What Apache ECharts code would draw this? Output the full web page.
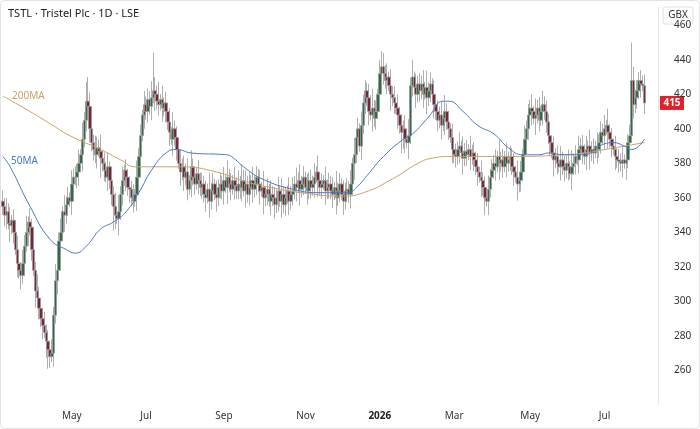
<!DOCTYPE html>
<html><head><meta charset="utf-8">
<script src="https://cdn.jsdelivr.net/npm/echarts@6/dist/echarts.min.js"></script>
<style>html,body{margin:0;padding:0;background:#fff}#c{width:700px;height:429px}</style>
</head><body><div id="c"></div>
<script>
const closes = [
355,350,352,345,344,347,340,330,322,318,
315,322,332,340,346,343,330,318,306,302,
296,290,286,282,277,272,268,270,292,312,
318,335,340,352,350,356,360,358,368,372,
372,375,380,385,394,405,416,413,400,392,
388,385,389,387,383,380,376,372,378,370,
362,355,350,348,352,362,370,376,372,366,
365,360,358,362,372,384,396,408,414,410,
417,413,418,422,420,416,414,417,412,415,
410,404,398,394,400,395,388,380,375,378,
372,375,365,370,378,372,368,374,370,366,
368,362,360,365,358,364,368,362,360,366,
368,364,370,366,372,368,365,370,367,364,
368,366,370,364,368,362,366,370,365,368,
372,368,364,366,360,362,365,358,362,360,
356,360,364,358,362,356,360,364,358,362,
364,368,366,370,365,368,372,366,364,370,
366,368,372,375,370,366,368,370,364,366,
368,364,362,366,360,364,368,362,358,364,
365,362,368,380,385,395,400,390,402,415,
422,418,410,408,412,406,410,420,432,436,
432,428,430,425,420,418,415,412,408,402,
398,400,394,392,396,425,430,424,420,426,
422,426,420,424,418,422,426,420,414,410,
405,408,402,406,410,404,400,395,388,385,
384,388,390,386,383,387,385,388,384,386,
382,378,375,372,370,366,360,358,365,372,
376,380,378,384,380,382,378,384,380,382,
384,378,375,372,368,370,375,385,394,400,
408,412,410,406,408,412,405,410,414,410,
404,396,392,386,382,384,380,378,382,378,
376,380,378,374,378,380,384,382,388,390,
386,384,388,390,386,388,386,390,388,392,
398,396,400,402,398,394,390,388,384,382,
381,380,382,380,382,392,396,428,414,418,
422,428,426,425,415];
const firstOpen = 358;
const upWick = "4353624352 3546253436 4325342536 4352634253 4352637452 3543624352 4352635243 4352634253 4364537252 4352634253 4352634253 4352634253 4352634253 5364536253 4352634253 4352634253 5363634253 4352634253 4352634253 4352634253 4356734253 5352634253 4352634253 4352634253 4352634253 4352634253 4352634253 4352634253 4352634253 4352634253 4352634253 4352634253 4352634253 4352634253 4352634253 43534";
const dnWick = "3452634253 5342534263 4352634253 5243634253 3452634253 4352734253 4352634253 5342634253 4352634253 4352634253 5342634253 4352634253 4352634253 3452634253 4352634253 5352634253 4352634253 4352634253 4352634253 4352634253 4352634253 4352634253 4652634253 4352634253 4352634253 4352634253 4352634253 4352634253 4352634253 4352634253 4352634253 4352634253 4352634253 4352634253 4352634253 43524";
const highOverride = {47:430, 83:444, 209:445, 226:440, 347:450, 352:434};
const lowOverride = {25:261, 61:341, 266:350, 220:386};
const ma50Pts = [[0,384],[4,378],[15,355],[26,336],[35,330],[40,328],[46,332],[54,342],[61,346],[68,352],[75,363],[82,376],[90,386],[96,388],[104,386],[123,385],[126,384],[134,377],[143,371],[160,365],[176,363],[190,363],[196,367],[201,373],[210,384],[221,394],[226,397],[235,407],[243,416],[246,416],[254,410],[262,402],[271,397],[279,389],[287,385],[296,385],[301,386],[310,385],[321,385],[329,390],[337,392],[343,390],[347,388],[354,394]];
const ma200Pts = [[0,419],[15,410],[26,403],[37,396],[54,388],[65,382],[73,378],[82,378],[98,378],[118,375],[132,370],[148,366],[165,363],[187,361],[199,363],[215,371],[229,380],[237,383],[248,384],[285,384],[310,385],[321,386],[332,388],[343,390],[354,392]];
const holidays = ["2025-04-18","2025-04-21","2025-05-05","2025-05-26","2025-08-25","2025-12-25","2025-12-26","2026-01-01","2026-04-03","2026-04-06","2026-05-04","2026-05-25"];
const yTicks = [260,280,300,320,340,360,380,400,420,440,460];
const monthNames = ["Jan","Feb","Mar","Apr","May","Jun","Jul","Aug","Sep","Oct","Nov","Dec"];

const dates = [];
let d = new Date(Date.UTC(2025,2,6));
while (dates.length < 362) {
  const wd = d.getUTCDay();
  const s = d.toISOString().slice(0,10);
  if (wd !== 0 && wd !== 6 && holidays.indexOf(s) < 0) dates.push(s);
  d.setUTCDate(d.getUTCDate()+1);
}
const uw = upWick.replace(/ /g,''), dw = dnWick.replace(/ /g,'');
const ohlc = closes.map((c,i)=>{
  const o = i===0 ? firstOpen : closes[i-1];
  let h = Math.max(o,c) + (+uw[i]||3)*1.6;
  let l = Math.min(o,c) - (+dw[i]||3)*1.6;
  if (highOverride[i]) h = highOverride[i];
  if (lowOverride[i]) l = lowOverride[i];
  return [o,c,l,h];
});
const labelIdx = {};
for (let i=1;i<dates.length;i++){
  const m = +dates[i].slice(5,7), pm = +dates[i-1].slice(5,7);
  if (m!==pm && m%2===1) labelIdx[i] = m===1 ? dates[i].slice(0,4) : monthNames[m-1];
}
const chart = echarts.init(document.getElementById('c'));
chart.setOption({
  animation:false,
  grid:{left:2,right:42,top:8,bottom:24},
  xAxis:{type:'category',data:dates,boundaryGap:true,
    axisLine:{show:false},axisTick:{show:false},splitLine:{show:false},
    axisLabel:{interval:(i)=>labelIdx[i]!==undefined,formatter:(v,i)=>{const t=labelIdx[i];return t===undefined?'':(/^\d+$/.test(t)?'{b|'+t+'}':t);},
      color:'#333',fontSize:10,fontFamily:'Noto Sans',margin:6,rich:{b:{fontWeight:'bold',fontSize:10,color:'#222'}}}},
  yAxis:{type:'value',position:'right',min:240,max:470,interval:20,
    axisLine:{show:true,lineStyle:{color:'#e6e6e6'}},axisTick:{show:false},splitLine:{show:false},
    axisLabel:{color:'#333',fontSize:10,fontFamily:'Noto Sans',margin:16,showMinLabel:false,showMaxLabel:false,
      formatter:(v)=>yTicks.indexOf(v)>=0?String(v):''}},
  series:[
    {type:'candlestick',data:ohlc,barWidth:3,
     itemStyle:{color:'#2f6b44',color0:'#7a2535',borderColor:'#9a9a9a',borderColor0:'#9a9a9a',borderWidth:0.8}},
    {type:'line',data:ma200Pts,smooth:true,showSymbol:false,lineStyle:{color:'#c9a06a',width:1}},
    {type:'line',data:ma50Pts,smooth:true,showSymbol:false,lineStyle:{color:'#4a78c8',width:1}}
  ]
});
const py = chart.convertToPixel({yAxisIndex:0},415);
chart.setOption({graphic:[
  {type:'rect',shape:{x:0.5,y:0.5,width:699,height:428,r:4},style:{fill:'none',stroke:'#e3e3e3'},silent:true},
  {type:'text',left:8,top:8,style:{text:'TSTL · Tristel Plc · 1D · LSE',fill:'#222',font:'11px "Noto Sans"'}},
  {type:'rect',shape:{x:663,y:7,width:30,height:17,r:2},style:{fill:'#fff',stroke:'#e0e0e0'}},
  {type:'text',x:678,y:15.5,style:{text:'GBX',fill:'#333',font:'10px "Noto Sans"',align:'center',verticalAlign:'middle'}},
  {type:'rect',shape:{x:660,y:py-7,width:24,height:14},style:{fill:'#e0202a'}},
  {type:'text',x:672,y:py,style:{text:'415',fill:'#fff',font:'bold 10px "Noto Sans"',align:'center',verticalAlign:'middle'}},
  {type:'text',x:12,y:96,style:{text:'200MA',fill:'#c9a06a',font:'10px "Noto Sans"',verticalAlign:'middle'}},
  {type:'text',x:11,y:161,style:{text:'50MA',fill:'#4a78c8',font:'10px "Noto Sans"',verticalAlign:'middle'}}
]});
</script></body></html>
